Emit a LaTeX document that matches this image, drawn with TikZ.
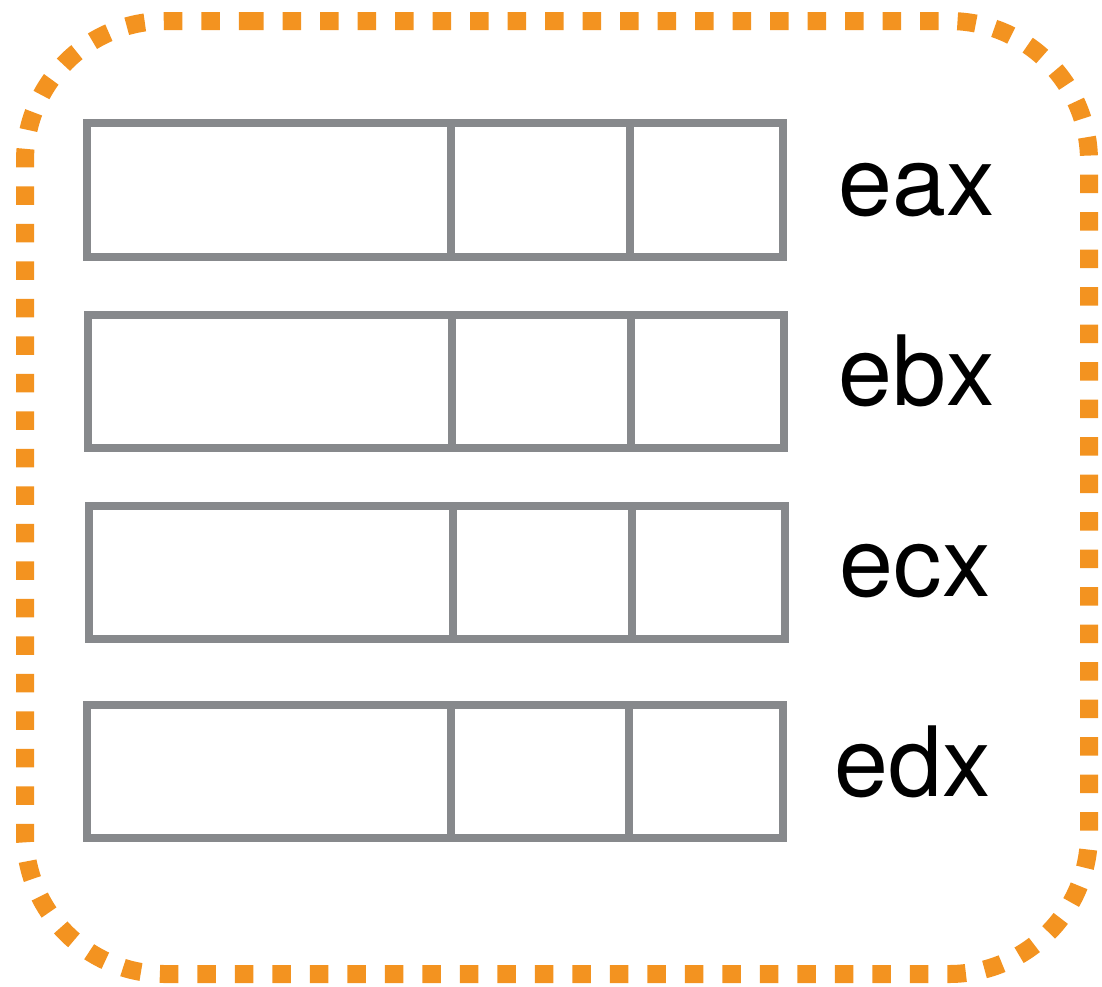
\documentclass[tikz,border=0pt]{standalone}
\usepackage{fontspec}
\setmainfont{TeX Gyre Heros}
\definecolor{regorange}{RGB}{243,147,32}
\definecolor{reggrey}{RGB}{135,137,140}
\tikzset{
  regbox/.style={draw=reggrey, line width=8pt, line join=miter},
  regdiv/.style={draw=reggrey, line width=8pt},
  reglabel/.style={anchor=base west, inner sep=0pt, text=black, font=\fontsize{97}{100}\selectfont},
  groupborder/.style={draw=regorange, line width=18pt, dash pattern=on 18.5pt off 19pt, rounded corners=140pt}
}
\begin{document}
\begin{tikzpicture}[x=1pt,y=1pt]
\useasboundingbox (0,0) rectangle (1102,-986);
% group border
\draw[groupborder] (245,-21) -- (1089,-21) -- (1089,-974) -- (25,-974) -- (25,-21) -- (245,-21);
% eax
\draw[regbox] (87,-123.3) rectangle (783.3,-256.5);
\draw[regdiv] (451.3,-123.3) -- (451.3,-256.5);
\draw[regdiv] (630,-123.3) -- (630,-256.5);
% ebx
\draw[regbox] (88.3,-314.7) rectangle (784.3,-447.5);
\draw[regdiv] (452.3,-314.7) -- (452.3,-447.5);
\draw[regdiv] (631,-314.7) -- (631,-447.5);
% ecx
\draw[regbox] (89.3,-505.7) rectangle (785,-639);
\draw[regdiv] (453.3,-505.7) -- (453.3,-639);
\draw[regdiv] (632,-505.7) -- (632,-639);
% edx
\draw[regbox] (86.7,-704.7) rectangle (782.7,-838);
\draw[regdiv] (450.7,-704.7) -- (450.7,-838);
\draw[regdiv] (629.3,-704.7) -- (629.3,-838);
% labels
\node[reglabel] (eax) at (838,-215) {eax};
\node[reglabel] (ebx) at (838,-405) {ebx};
\node[reglabel] (ecx) at (839.5,-596.7) {ecx};
\node[reglabel] (edx) at (834.5,-796.7) {edx};
\end{tikzpicture}
\end{document}
